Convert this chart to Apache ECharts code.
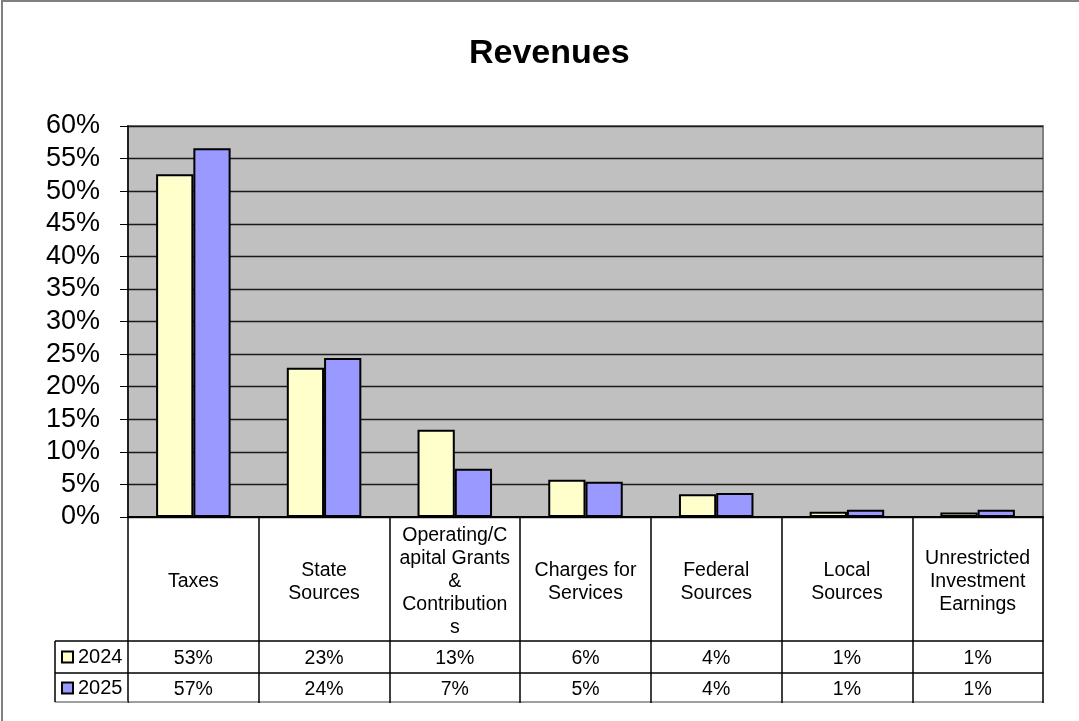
<!DOCTYPE html>
<html>
<head>
<meta charset="utf-8">
<title>Revenues</title>
<script src="https://cdn.jsdelivr.net/npm/echarts@6/dist/echarts.min.js"></script>
<style>
  html, body { margin: 0; padding: 0; background: #fff; }
  #chart { width: 1079px; height: 721px; }
</style>
</head>
<body>
<div id="chart"></div>
<script>
// categories (line breaks as in the original table cells)
const categories = [
    'Taxes',
    'State\nSources',
    'Operating/C\napital Grants\n&\nContribution\ns',
    'Charges for\nServices',
    'Federal\nSources',
    'Local\nSources',
    'Unrestricted\nInvestment\nEarnings'
];
const seriesNames = ['2024', '2025'];
// share of revenues, percent
const values2024 = [52.6, 22.9, 13.4, 5.7, 3.5, 0.8, 0.7];
const values2025 = [56.6, 24.4, 7.4, 5.4, 3.7, 1.1, 1.1];
const colors = ['#ffffcc', '#9999ff'];

const FONT = '"Liberation Sans", Arial, sans-serif';
const chart = echarts.init(document.getElementById('chart'), null, { renderer: 'canvas' });

const pct = (v) => Math.round(v) + '%';

// 表格行：额外的 x 轴，只用轴线和标签
const tableAxis = (offset, margin, lineColor, formatter) => ({
    type: 'category',
    data: categories,
    gridIndex: 0,
    position: 'bottom',
    offset: offset,
    axisLine: { show: true, lineStyle: { color: lineColor, width: 1.5 } },
    axisTick: { show: false },
    splitLine: { show: false },
    axisLabel: {
        show: !!formatter,
        interval: 0,
        margin: margin,
        verticalAlign: 'middle',
        formatter: formatter || '',
        fontFamily: FONT,
        fontSize: 19.5,
        color: '#000'
    }
});

const option = {
    animation: false,
    backgroundColor: '#fff',
    title: {
        text: 'Revenues',
        left: 464,
        top: 32,
        textStyle: { fontFamily: FONT, fontWeight: 'bold', fontSize: 34, color: '#000' }
    },
    legend: {
        orient: 'vertical',
        left: 61,
        top: 647,
        padding: 0,
        itemWidth: 11,
        itemHeight: 11,
        itemGap: 11,
        icon: 'rect',
        data: seriesNames,
        textStyle: { fontFamily: FONT, fontSize: 20, lineHeight: 20, color: '#000' }
    },
    grid: {
        left: 128,
        top: 126,
        right: 36,
        bottom: 204,
        show: true,
        backgroundColor: '#c0c0c0',
        borderColor: '#808080',
        borderWidth: 2
    },
    xAxis: [
        {
            type: 'category',
            data: categories,
            axisLine: { show: true, lineStyle: { color: '#000', width: 2 } },
            axisTick: { show: true, interval: 0, length: 186, lineStyle: { color: '#000', width: 1.5 } },
            axisLabel: {
                interval: 0,
                margin: 65,
                verticalAlign: 'middle',
                align: 'center',
                fontFamily: FONT,
                fontSize: 19.5,
                lineHeight: 23,
                color: '#000'
            }
        },
        tableAxis(124, 18, '#000', (v, i) => pct(values2024[i])),
        tableAxis(156, 17, '#000', (v, i) => pct(values2025[i])),
        tableAxis(185, 0, '#808080', null)
    ],
    yAxis: {
        type: 'value',
        min: 0,
        max: 60,
        interval: 5,
        axisLine: { show: true, lineStyle: { color: '#000', width: 1.5 } },
        axisTick: { show: true, length: 8, lineStyle: { color: '#000' } },
        axisLabel: {
            margin: 28,
            formatter: '{value}%',
            fontFamily: FONT,
            fontSize: 27,
            color: '#000'
        },
        splitLine: { show: true, lineStyle: { color: '#1a1a1a', width: 1.3 } }
    },
    series: [values2024, values2025].map((vals, i) => ({
        name: seriesNames[i],
        type: 'bar',
        data: vals,
        barGap: '0%',
        barCategoryGap: '43%',
        itemStyle: { color: colors[i], borderColor: '#000', borderWidth: 2 }
    })),
    graphic: [
        // outer chart-area frame
        {
            type: 'rect', silent: true, z: 100,
            shape: { x: 2, y: 1, width: 1200, height: 800 },
            style: { fill: null, stroke: '#808080', lineWidth: 2 }
        },
        // legend column of the data table
        { type: 'line', silent: true, z: 100, shape: { x1: 55, y1: 641, x2: 128, y2: 641 }, style: { stroke: '#000', lineWidth: 1.5 } },
        { type: 'line', silent: true, z: 100, shape: { x1: 55, y1: 673, x2: 128, y2: 673 }, style: { stroke: '#000', lineWidth: 1.5 } },
        { type: 'line', silent: true, z: 100, shape: { x1: 55, y1: 702, x2: 128, y2: 702 }, style: { stroke: '#808080', lineWidth: 1.5 } },
        { type: 'line', silent: true, z: 100, shape: { x1: 55, y1: 641, x2: 55, y2: 702 }, style: { stroke: '#000', lineWidth: 1.5 } }
    ]
};

chart.setOption(option);
</script>
</body>
</html>
